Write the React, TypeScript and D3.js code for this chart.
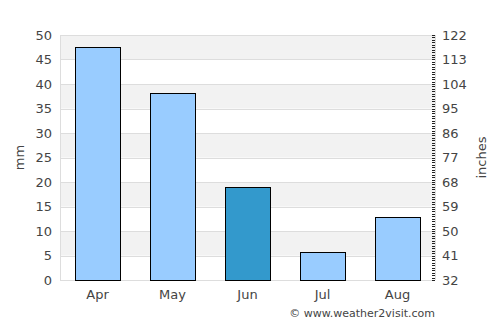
import React, { useEffect, useRef } from "react";
import * as d3 from "d3";

const months = ["Apr", "May", "Jun", "Jul", "Aug"];
const rainfall = [47.5, 38.1, 19.0, 5.7, 12.9];
const highlight = "Jun";
const leftTicks = [0, 5, 10, 15, 20, 25, 30, 35, 40, 45, 50];
const rightLabels = ["32", "41", "50", "59", "68", "77", "86", "95", "104", "113", "122"];

const W = 500;
const H = 325;
const margin = { top: 35, right: 65, bottom: 45, left: 60 };

export default function App() {
  const ref = useRef<SVGSVGElement>(null);

  useEffect(() => {
    const svg = d3.select(ref.current);
    svg.selectAll("*").remove();
    const font = "DejaVu Sans, sans-serif";

    const x = d3.scaleBand()
      .domain(months)
      .range([margin.left, W - margin.right])
      .paddingInner(0.4)
      .paddingOuter(0.2);

    const y = d3.scaleLinear()
      .domain([0, 50])
      .range([H - margin.bottom, margin.top]);

    // alternate shaded bands
    const bands = leftTicks.slice(0, -1);
    svg.append("g")
      .selectAll("rect")
      .data(bands)
      .enter()
      .append("rect")
      .attr("x", margin.left)
      .attr("width", W - margin.right - margin.left)
      .attr("y", d => y(d + 5))
      .attr("height", d => y(d) - y(d + 5))
      .attr("fill", (d, i) => (i % 2 === 1 ? "#f2f2f2" : "#ffffff"));

    // grid lines
    svg.append("g")
      .selectAll("line")
      .data(leftTicks)
      .enter()
      .append("line")
      .attr("x1", margin.left)
      .attr("x2", W - margin.right)
      .attr("y1", d => Math.round(y(d)) + 0.5)
      .attr("y2", d => Math.round(y(d)) + 0.5)
      .attr("stroke", "#dddddd");

    // left and right axis lines
    const rx = W - margin.right;
    svg.append("line")
      .attr("x1", margin.left + 0.5)
      .attr("x2", margin.left + 0.5)
      .attr("y1", y(50))
      .attr("y2", y(0))
      .attr("stroke", "#dddddd");
    svg.append("line")
      .attr("x1", rx + 0.5)
      .attr("x2", rx + 0.5)
      .attr("y1", y(50))
      .attr("y2", y(0))
      .attr("stroke", "#dddddd");

    // bars
    svg.append("g")
      .selectAll("rect")
      .data(rainfall)
      .enter()
      .append("rect")
      .attr("x", (d, i) => Math.round(x(months[i])!) + 0.5)
      .attr("y", d => Math.round(y(d)) + 0.5)
      .attr("width", x.bandwidth())
      .attr("height", d => Math.round(y(0)) - Math.round(y(d)))
      .attr("fill", (d, i) => (months[i] === highlight ? "#3399cc" : "#99ccff"))
      .attr("stroke", "#000")
      .attr("stroke-width", 1);

    // left tick labels
    svg.append("g")
      .selectAll("text")
      .data(leftTicks)
      .enter()
      .append("text")
      .attr("x", 52)
      .attr("y", d => y(d))
      .attr("dy", "0.35em")
      .attr("text-anchor", "end")
      .attr("font-family", font)
      .attr("font-size", 13)
      .attr("fill", "#444")
      .text(d => d);

    // right axis minor ticks
    const minor = d3.range(0, 50.01, 0.5);
    svg.append("g")
      .selectAll("line")
      .data(minor)
      .enter()
      .append("line")
      .attr("x1", rx - 3)
      .attr("x2", rx)
      .attr("y1", d => Math.round(y(d)) + 0.5)
      .attr("y2", d => Math.round(y(d)) + 0.5)
      .attr("stroke", "#222")
      .attr("stroke-width", 1);

    // right tick labels
    svg.append("g")
      .selectAll("text")
      .data(rightLabels)
      .enter()
      .append("text")
      .attr("x", 442)
      .attr("y", (d, i) => y(leftTicks[i]))
      .attr("dy", "0.35em")
      .attr("font-family", font)
      .attr("font-size", 13)
      .attr("fill", "#444")
      .text(d => d);

    // month labels
    svg.append("g")
      .selectAll("text")
      .data(months)
      .enter()
      .append("text")
      .attr("x", d => x(d)! + x.bandwidth() / 2)
      .attr("y", 299)
      .attr("text-anchor", "middle")
      .attr("font-family", font)
      .attr("font-size", 13)
      .attr("fill", "#444")
      .text(d => d);

    // axis titles
    svg.append("text")
      .attr("transform", "translate(24," + (y(25)) + ") rotate(-90)")
      .attr("text-anchor", "middle")
      .attr("font-family", font)
      .attr("font-size", 13)
      .attr("fill", "#444")
      .text("mm");

    svg.append("text")
      .attr("transform", "translate(486," + (y(25)) + ") rotate(-90)")
      .attr("text-anchor", "middle")
      .attr("font-family", font)
      .attr("font-size", 13)
      .attr("fill", "#444")
      .text("inches");

    svg.append("text")
      .attr("x", 435)
      .attr("y", 317)
      .attr("text-anchor", "end")
      .attr("font-family", font)
      .attr("font-size", 11)
      .attr("fill", "#444")
      .text("© www.weather2visit.com");
  }, []);

  return (
    <svg
      ref={ref}
      width={W}
      height={H}
      style={{ position: "absolute", left: 0, top: 0, background: "#fff" }}
    />
  );
}
